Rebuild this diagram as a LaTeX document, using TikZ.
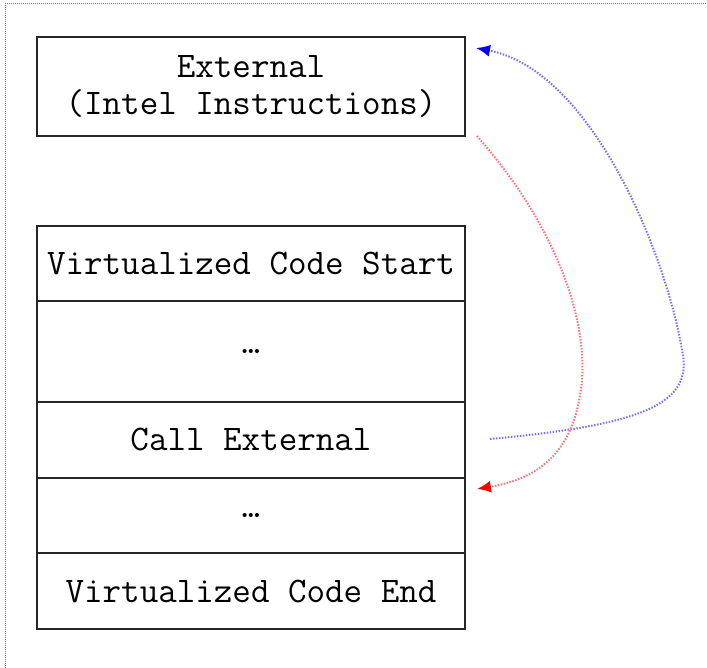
\documentclass[tikz,border=0pt]{standalone}
\usepackage{fontspec}
\usetikzlibrary{arrows.meta}
\begin{document}
\begin{tikzpicture}[x=1pt,y=-1pt,
  frame/.style={draw=black!85,line width=2pt},
  cell/.style={frame,minimum width=428pt,inner sep=0pt,anchor=north west,font=\ttfamily\fontsize{36}{40}\selectfont},
  flow/.style={line width=2pt,dash pattern=on 1.5pt off 1.5pt},
  border/.style={draw=gray,line width=1pt,dash pattern=on 1pt off 1pt}]
\useasboundingbox (0,0) rectangle (707,668);
% page border
\draw[border] (5,668) -- (5,4) -- (707,4);
% external code block
\node[cell,minimum height=99pt,align=center,font=\ttfamily\fontsize{36}{37}\selectfont] (ext) at (36,36) {External\\(Intel Instructions)};
% virtualized code stack
\node[cell,minimum height=75pt] (vstart) at (36,225) {Virtualized Code Start};
\node[cell,minimum height=101pt] (dots1) at (36,300) {…};
\node[cell,minimum height=76pt] (call) at (36,401) {Call External};
\node[cell,minimum height=75pt] (dots2) at (36,477) {…};
\node[cell,minimum height=76pt] (vend) at (36,552) {Virtualized Code End};
% coordinates of the connector ends
\coordinate (callout) at (490,439);
\coordinate (extin) at (476,48);
\coordinate (extout) at (477,136);
\coordinate (back) at (477,489);
% call into external code
\draw[flow,draw=blue!55,-{Latex[length=14pt,width=12pt,color=blue]}] (callout) .. controls (640,425) and (695,405) .. (682,350)
  .. controls (665,250) and (590,70) .. (extin);
% return to the virtualized code
\draw[flow,draw=red!55,-{Latex[length=14pt,width=12pt,color=red]}] (extout) .. controls (560,230) and (592,330) .. (580,395)
  .. controls (570,460) and (530,480) .. (back);
\end{tikzpicture}
\end{document}
